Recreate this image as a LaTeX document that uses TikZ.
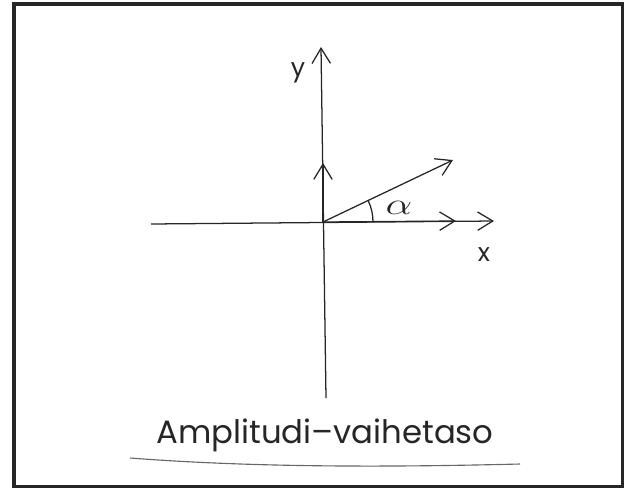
\documentclass[tikz,border=0pt]{standalone}
\usepackage{fontspec}
\setmainfont{Poppins}
\usepackage{tikz}
\usetikzlibrary{arrows.meta}

\begin{document}
\begin{tikzpicture}[x=0.025cm, y=0.025cm,
        axis/.style={line width=0.9pt, draw=black!85, -{Straight Barb[length=0.38cm, width=0.46cm, line width=0.9pt]}},
        vec/.style={line width=0.9pt, draw=black!85, -{Straight Barb[length=0.38cm, width=0.46cm, line width=0.9pt]}},
        lbl/.style={font=\fontsize{18}{20}\selectfont, text=black!85, inner sep=0pt},
        frame/.style={line width=2.6pt, draw=black!85}
    ]
        \useasboundingbox (0,0) rectangle (625,-488);
        % Frame
        \draw[frame] (14,-4) rectangle (622.5,-486.5);

        % Axes
        \coordinate (O) at (323,-222);
        \coordinate (ytop) at (321,-47);
        \coordinate (ybot) at (326,-398);
        \coordinate (xleft) at (151,-224);
        \coordinate (xtip) at (494,-221);
        \draw[axis] (ybot) -- (ytop);
        \draw[axis] (xleft) -- (xtip);

        % Phasor and components
        \coordinate (vx) at (456,-221);
        \coordinate (vy) at (323,-163);
        \coordinate (ph) at (453,-160);
        \draw[vec] (O) -- (vx);
        \draw[vec] (O) -- (vy);
        \draw[vec] (O) -- (ph);
        \draw[line width=0.9pt, black!85] (O) ++(50,0) arc[start angle=0, end angle=25.7, radius=50];

        % Labels
        \node[lbl] (ylab) at (298,-73) {y};
        \node[lbl] (xlab) at (484,-255) {x};
        \node[lbl, font=\fontsize{20}{22}\selectfont] (alab) at (399,-208) {\scalebox{1.45}[1.05]{$\alpha$}};
        \node[lbl, font=\fontsize{23}{27}\selectfont] (title) at (325,-435) {Amplitudi–vaihetaso};
        \draw[line width=0.8pt, black!60] (130,-458) .. controls (260,-468) and (400,-467) .. (520,-464);
    \end{tikzpicture}
\end{document}
